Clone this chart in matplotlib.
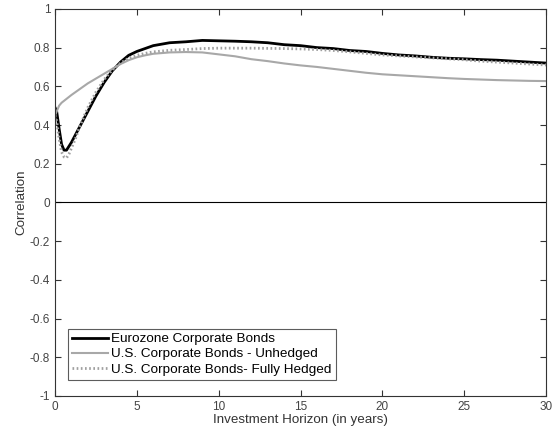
import matplotlib
matplotlib.use("Agg")
import matplotlib.pyplot as plt
from matplotlib.ticker import FuncFormatter, MultipleLocator

plt.rcParams["font.family"] = ["Liberation Sans", "DejaVu Sans"]

# investment horizon (years) and correlation paths
horizon = [0, 0.1, 0.25, 0.4, 0.55, 0.7, 0.85, 1.0, 1.25, 1.5, 1.75, 2.0, 2.5, 3.0,
           3.5, 4.0, 4.5, 5, 5.5, 6, 7, 8, 9, 10, 11, 12, 13, 14, 15, 16, 17, 18,
           19, 20, 21, 22, 23, 24, 25, 26, 27, 28, 29, 30]

eurozone = [0.49, 0.47, 0.38, 0.30, 0.27, 0.27, 0.29, 0.31, 0.35, 0.39, 0.43, 0.47,
            0.55, 0.62, 0.68, 0.725, 0.76, 0.78, 0.795, 0.81, 0.825, 0.83, 0.837,
            0.835, 0.833, 0.83, 0.825, 0.815, 0.81, 0.80, 0.795, 0.785, 0.78, 0.77,
            0.762, 0.757, 0.75, 0.745, 0.742, 0.738, 0.735, 0.73, 0.725, 0.72]

us_unhedged = [0.45, 0.47, 0.50, 0.515, 0.525, 0.535, 0.545, 0.555, 0.57, 0.585,
               0.60, 0.615, 0.64, 0.665, 0.69, 0.715, 0.735, 0.75, 0.76, 0.768,
               0.775, 0.777, 0.775, 0.765, 0.755, 0.74, 0.73, 0.718, 0.708, 0.70,
               0.69, 0.68, 0.67, 0.662, 0.657, 0.652, 0.647, 0.642, 0.638, 0.635,
               0.632, 0.63, 0.628, 0.627]

us_hedged = [0.45, 0.42, 0.33, 0.26, 0.235, 0.23, 0.25, 0.28, 0.33, 0.39, 0.44,
             0.49, 0.57, 0.635, 0.685, 0.72, 0.745, 0.76, 0.77, 0.778, 0.786, 0.79,
             0.795, 0.797, 0.797, 0.797, 0.796, 0.795, 0.793, 0.79, 0.785, 0.778,
             0.77, 0.762, 0.757, 0.752, 0.747, 0.742, 0.737, 0.73, 0.725, 0.72,
             0.715, 0.71]

fig = plt.figure(figsize=(5.56, 4.33), dpi=100)
ax = fig.add_axes([0.099, 0.0855, 0.883, 0.894])

ax.plot(horizon, eurozone, color="black", linewidth=2,
        label="Eurozone Corporate Bonds")
ax.plot(horizon, us_unhedged, color="#a8a8a8", linewidth=1.5,
        label="U.S. Corporate Bonds - Unhedged")
ax.plot(horizon, us_hedged, color="#a0a0a0", linewidth=2, linestyle=(0, (0.6, 0.9)),
        label="U.S. Corporate Bonds- Fully Hedged")
ax.axhline(0, color="black", linewidth=0.8)

ax.set_xlim(0, 30)
ax.set_ylim(-1, 1)
ax.xaxis.set_major_locator(MultipleLocator(5))
ax.yaxis.set_major_locator(MultipleLocator(0.2))
ax.yaxis.set_major_formatter(FuncFormatter(lambda v, pos: f"{round(v, 1) + 0:g}"))
ax.tick_params(direction="in", top=True, right=True, length=4, width=0.8,
               labelsize=8.5, colors="#333333", labelcolor="#444444")
for s in ax.spines.values():
    s.set_linewidth(0.8)
    s.set_color("#333333")

ax.set_xlabel("Investment Horizon (in years)", fontsize=9.6, color="#333333", labelpad=1)
ax.set_ylabel("Correlation", fontsize=9.6, color="#333333", labelpad=2)

leg = ax.legend(loc="lower left", fontsize=9.7, frameon=True, fancybox=False,
                handlelength=2.7, handletextpad=0.25, borderpad=0.3,
                labelspacing=0.2, bbox_to_anchor=(0.012, 0.025))
leg.get_frame().set_edgecolor("#333333")
leg.get_frame().set_linewidth(0.8)

fig.savefig("out.png", dpi=100)
